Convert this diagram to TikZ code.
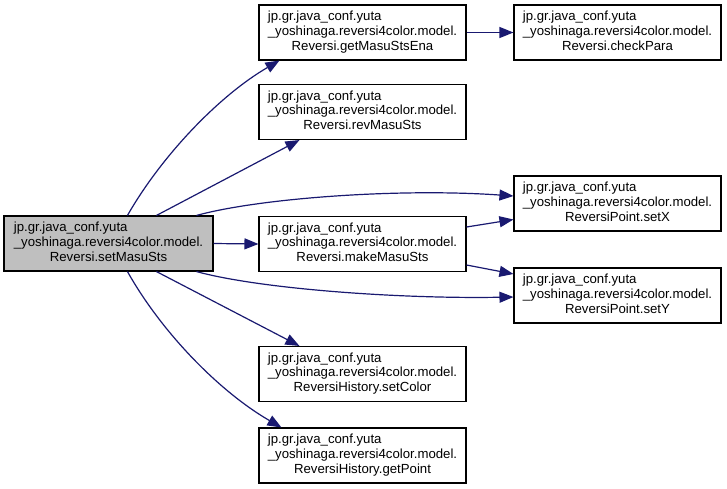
\documentclass[tikz,border=0pt]{standalone}
\usepackage{fontspec}
\setmainfont{Liberation Sans}
\usetikzlibrary{arrows.meta,calc}
\definecolor{edgeblue}{HTML}{191970}
\definecolor{mainfill}{HTML}{BFBFBF}
\newcommand{\fn}[1]{\begin{tabular}{@{}l@{}}jp.gr.java\_conf.yuta\\ \_yoshinaga.reversi4color.model.\\ \multicolumn{1}{@{}c@{}}{#1}\end{tabular}}
\tikzset{
  fnbox/.style={draw=black, line width=1.1pt, fill=white, minimum width=207pt, minimum height=55pt, inner sep=0pt,
    font=\fontsize{13.2}{14.6}\selectfont},
  mainbox/.style={fnbox, fill=mainfill, minimum width=209pt},
  call/.style={draw=edgeblue, line width=1.2pt, -{Triangle[length=14pt,width=11pt]}}
}
\begin{document}
\begin{tikzpicture}[x=1pt,y=-1pt]
\useasboundingbox (0,0) rectangle (727,488);
\node[mainbox] (main) at (108.5,243.5) {\fn{Reversi.setMasuSts}};
\node[fnbox] (ena) at (362.5,32.5) {\fn{Reversi.getMasuStsEna}};
\node[fnbox] (check) at (617.5,32.5) {\fn{Reversi.checkPara}};
\node[fnbox] (rev) at (362.5,112) {\fn{Reversi.revMasuSts}};
\node[fnbox] (make) at (362.5,244) {\fn{Reversi.makeMasuSts}};
\node[fnbox] (setx) at (617.5,203.5) {\fn{ReversiPoint.setX}};
\node[fnbox] (sety) at (617.5,295.5) {\fn{ReversiPoint.setY}};
\node[fnbox] (color) at (362.5,374) {\fn{ReversiHistory.setColor}};
\node[fnbox] (point) at (362.5,455.5) {\fn{ReversiHistory.getPoint}};

\draw[call] ($(main.north west)+(124,0)$) .. controls (162,155) and (220,95) .. ($(ena.south west)+(21,0)$);
\draw[call] ($(main.north west)+(153,0)$) -- ($(rev.south west)+(41,0)$);
\draw[call] ($(main.north west)+(193,0)$) .. controls (260,198) and (400,188) .. ($(setx.west)+(0,-7.5)$);
\draw[call] (main.east) -- (make.west);
\draw[call] ($(main.south west)+(193,0)$) .. controls (260,289) and (400,299) .. ($(sety.west)+(0,1.5)$);
\draw[call] ($(main.south west)+(153,0)$) -- ($(color.north west)+(41,0)$);
\draw[call] ($(main.south west)+(124,0)$) .. controls (162,333) and (220,392) .. ($(point.north west)+(23,0)$);
\draw[call] (ena.east) -- (check.west);
\draw[call] ($(make.east)+(0,-17)$) -- ($(setx.west)+(0,16)$);
\draw[call] ($(make.east)+(0,21)$) -- ($(sety.west)+(0,-21.5)$);
\end{tikzpicture}
\end{document}
